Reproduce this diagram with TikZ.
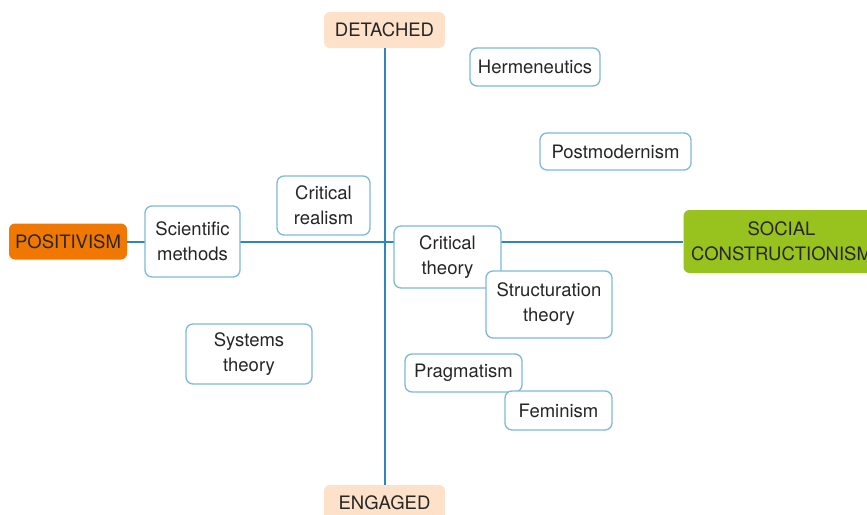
\documentclass[tikz,border=0pt]{standalone}
\usepackage{fontspec}
\setmainfont{TeX Gyre Heros}
\begin{document}
\begin{tikzpicture}[x=1pt,y=-1pt,
  font=\fontsize{18.5}{25}\selectfont,
  axis/.style={draw=axisblue, line width=2pt},
  concept/.style={draw=boxblue, fill=white, line width=1.3pt, rounded corners=7pt,
    align=center, inner sep=0pt, text=black!85},
  pole/.style={rounded corners=6pt, align=center, inner sep=0pt, text=black!85},
]
\definecolor{axisblue}{HTML}{2E86C1}
\definecolor{boxblue}{HTML}{7DB9D8}
\definecolor{peach}{HTML}{FDE1C8}
\definecolor{orangepole}{HTML}{F07800}
\definecolor{greenpole}{HTML}{98C21E}
\useasboundingbox (0,0) rectangle (867,514);
\clip (0,0) rectangle (867,514);

% poles of the two axes
\node[pole, fill=peach, minimum width=121pt, minimum height=36pt] (detached) at (384.5,30) {DETACHED};
\node[pole, fill=peach, minimum width=121pt, minimum height=36pt] (engaged) at (384.5,503) {ENGAGED};
\node[pole, fill=orangepole, minimum width=118pt, minimum height=36pt] (positivism) at (68,241.5) {POSITIVISM};
\node[pole, fill=greenpole, minimum width=196pt, minimum height=63pt] (social) at (781.5,241.5) {SOCIAL\\CONSTRUCTIONISM};

% axes
\draw[axis] (detached) -- (engaged);
\draw[axis] (positivism) -- (social);

% positions on the map
\node[concept, minimum width=95pt, minimum height=71pt] (scimeth) at (192.5,241.5) {Scientific\\methods};
\node[concept, minimum width=93pt, minimum height=59pt] (critreal) at (323.5,205.5) {Critical\\realism};
\node[concept, minimum width=130pt, minimum height=38pt] (herm) at (535,67) {Hermeneutics};
\node[concept, minimum width=151pt, minimum height=37pt] (postmod) at (615.5,151.5) {Postmodernism};
\node[concept, minimum width=107pt, minimum height=62pt] (crittheory) at (447.5,257) {Critical\\theory};
\node[concept, minimum width=126pt, minimum height=67pt] (structuration) at (549,304.5) {Structuration\\theory};
\node[concept, minimum width=126pt, minimum height=60pt] (systems) at (249,354) {Systems\\theory};
\node[concept, minimum width=117pt, minimum height=38pt] (pragmatism) at (463.5,373) {Pragmatism};
\node[concept, minimum width=107pt, minimum height=39pt] (feminism) at (558.5,410.5) {Feminism};
\end{tikzpicture}
\end{document}
